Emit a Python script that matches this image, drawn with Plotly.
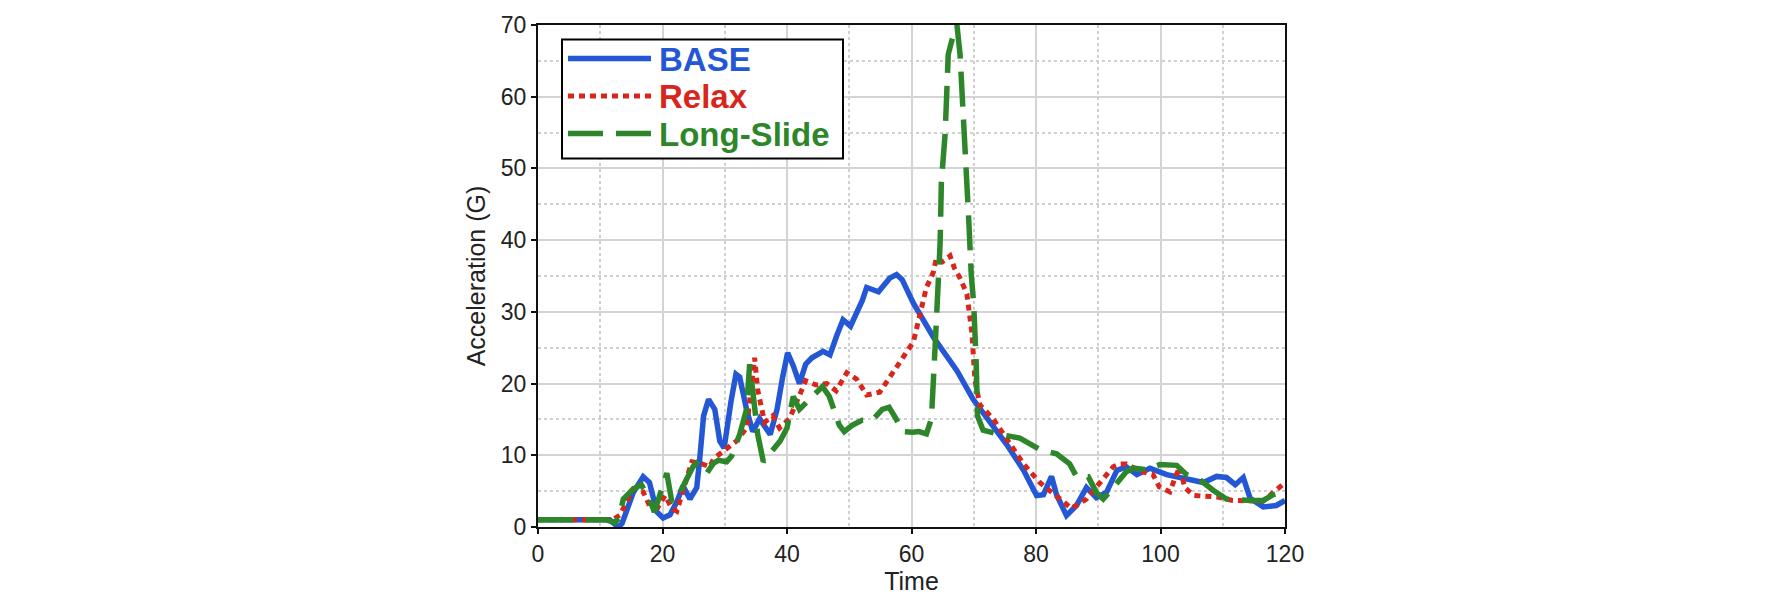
import plotly.graph_objects as go

# ---------------- data ----------------
base_t = [0, 5, 10, 11.5, 12.9, 13.5, 15.3, 16.9, 17.9, 19.1, 20.1, 21.2, 22.3, 23.3, 24.4,
          25.5, 26.0, 26.6, 27.4, 28.4, 29.2, 29.9, 31.0, 31.8, 32.4, 33.5, 34.5, 35.6, 37.3,
          38.4, 39.3, 40.1, 41.0, 42.0, 43.0, 44.0, 45.8, 46.9, 48.0, 49.0, 50.2, 51.0, 52.1,
          52.8, 54.0, 54.7, 56.5, 57.6, 58.5, 60.3, 63.5, 66.2, 67.3, 69.9, 72.6, 75.3, 78.0,
          80.1, 81.2, 82.5, 83.3, 84.9, 86.5, 88.1, 89.7, 91.3, 93.0, 94.5, 96.2, 98.3, 101.0,
          104.2, 106.9, 109.0, 110.6, 112.0, 113.3, 114.4, 116.5, 118.6, 120]
base_a = [1.0, 1.0, 1.0, 1.0, 0.0, 0.5, 4.8, 7.0, 6.2, 2.1, 1.25, 1.7, 3.5, 5.7, 3.9,
          5.5, 9.7, 15.5, 17.8, 16.4, 12.0, 11.0, 17.5, 21.3, 20.9, 16.4, 13.3, 15.1, 12.9,
          16.4, 20.9, 24.3, 22.5, 20.0, 22.7, 23.6, 24.5, 24.0, 26.7, 28.9, 28.0, 29.4, 31.6,
          33.4, 33.0, 32.8, 34.7, 35.2, 34.5, 31.2, 26.5, 23.1, 21.8, 17.8, 14.6, 11.5, 7.9,
          4.4, 4.5, 7.05, 4.5, 1.6, 3.0, 5.5, 4.1, 4.8, 7.9, 8.4, 7.3, 8.2, 7.3,
          6.6, 6.2, 7.05, 6.9, 5.9, 6.9, 4.0, 2.8, 3.0, 3.7]

relax_t = [0, 5, 10, 12, 13.2, 15.3, 16.3, 16.9, 17.9, 19.3, 20.4, 21.5, 22.3, 23.9, 24.7,
           26.0, 27.6, 28.2, 30.3, 31.9, 33.5, 34.1, 34.8, 35.3, 36.4, 37.7, 38.8, 40.4, 42.0,
           43.0, 44.7, 46.4, 47.9, 49.6, 51.2, 52.8, 54.9, 56.5, 58.7, 60.3, 61.4, 62.4, 63.5,
           64.0, 65.0, 66.2, 66.9, 67.8, 68.9, 69.4, 69.7, 70.2, 71.0, 73.1, 75.3, 78.0, 80.6,
           83.3, 85.7, 88.1, 90.3, 92.4, 93.5, 94.5, 96.7, 98.8, 99.8, 101.5, 102.4, 103.1,
           103.9, 105.3, 109.0, 111.6, 116.5, 118.1, 119.7, 120]
relax_a = [1.0, 1.0, 1.0, 1.0, 1.7, 5.3, 5.0, 4.9, 3.0, 2.8, 4.4, 2.6, 2.2, 7.0, 9.1,
           8.9, 8.4, 9.5, 10.8, 12.0, 13.8, 18.2, 23.6, 19.1, 14.6, 15.5, 13.8, 15.1, 18.2,
           20.4, 19.8, 20.0, 19.0, 21.5, 20.6, 18.4, 18.8, 20.9, 23.6, 25.8, 29.8, 33.4, 35.5,
           37.5, 37.0, 37.8, 36.1, 34.7, 32.5, 28.0, 27.1, 20.4, 17.0, 15.1, 12.4, 8.8, 6.2,
           4.4, 2.6, 3.9, 6.2, 8.4, 8.8, 8.8, 7.8, 7.3, 5.6, 4.9, 7.0, 8.4,
           5.5, 4.4, 4.2, 3.7, 3.6, 4.8, 6.2, 6.2]

slide_t = [0, 5, 11, 12.3, 13.0, 13.7, 15.3, 16.6, 17.9, 18.7, 19.9, 20.7, 21.5, 22.8, 23.6,
           24.9, 25.5, 27.1, 28.2, 29.0, 30.3, 31.1, 32.4, 33.5, 34.0, 34.5, 35.3, 36.2, 38.9,
           40.0, 41.0, 42.0, 43.0, 44.1, 45.7, 46.8, 48.4, 49.2, 50.5, 52.1, 53.7, 55.3, 56.4,
           57.5, 58.6, 60.2, 61.2, 62.4, 63.2, 63.8, 64.3, 64.6, 64.8, 65.4, 65.7, 65.9, 66.5,
           67.3, 67.8, 68.3, 68.9, 69.2, 69.6, 70.0, 70.4, 70.6, 71.5, 74.2, 77.4, 80.6, 83.3,
           85.4, 86.5, 88.4, 89.7, 90.8, 92.4, 94.5, 95.6, 97.8, 99.9, 102.6, 104.2, 106.3,
           108.5, 110.6, 114.6, 116.5, 118.1, 119.7, 120]
slide_a = [1.0, 1.0, 1.0, 0.6, 1.2, 3.9, 5.3, 5.9, 3.9, 2.1, 5.3, 7.5, 3.5, 4.8, 6.2,
           8.4, 8.9, 7.5, 8.9, 9.3, 9.1, 9.9, 12.9, 16.4, 22.7, 19.1, 12.9, 9.1, 12.0,
           13.8, 18.2, 16.4, 17.3, 18.2, 19.6, 18.2, 14.2, 13.3, 14.2, 14.9, 14.9, 16.4, 16.7,
           15.1, 13.3, 13.2, 13.3, 13.0, 15.1, 25.3, 32.7, 39.6, 48.1, 54.8, 61.3, 65.9, 67.9,
           70.0, 65.9, 58.4, 49.4, 42.8, 35.2, 31.0, 22.7, 15.5, 13.5, 12.9, 12.4, 10.8, 10.2,
           8.8, 7.05, 7.0, 4.8, 3.9, 5.5, 7.7, 8.2, 8.0, 8.7, 8.6, 7.3, 6.6,
           5.1, 3.9, 3.7, 3.7, 4.5, 5.0, 5.0]

series_names = ["BASE", "Relax", "Long-Slide"]
x_ticks = [0, 20, 40, 60, 80, 100, 120]
y_ticks = [0, 10, 20, 30, 40, 50, 60, 70]

# ---------------- styling ----------------
BLUE = "#2457D4"
RED = "#D9261C"
GREEN = "#2D872A"
FONT = "Liberation Sans, Arial, sans-serif"

styles = [
    dict(color=BLUE, width=5.5, dash="solid"),
    dict(color=RED, width=5, dash="6px,5px"),
    dict(color=GREEN, width=5.5, dash="35px,13px"),
]

fig = go.Figure()
for name, t, a, st in zip(series_names, [base_t, relax_t, slide_t],
                          [base_a, relax_a, slide_a], styles):
    fig.add_trace(go.Scatter(x=t, y=a, mode="lines", name=name, line=st,
                             showlegend=False))

L, R, T, B = 538, 487, 13, 64
W, H = 1772, 600
pw, ph = W - L - R, H - T - B


def px(x):
    return (x - L) / pw


def py(y):
    return (H - B - y) / ph


# custom legend (box, line samples, bold coloured labels)
shapes = [dict(type="rect", xref="paper", yref="paper",
               x0=px(562), x1=px(843), y0=py(152), y1=py(28),
               line=dict(color="black", width=2), fillcolor="white", layer="above")]
annotations = []
rows = [48, 87, 126]
for name, st, ry in zip(series_names, styles, rows):
    shapes.append(dict(type="line", xref="paper", yref="paper",
                       x0=px(568), x1=px(651), y0=py(ry), y1=py(ry),
                       line=dict(color=st["color"], width=st["width"], dash=st["dash"]),
                       layer="above"))
    annotations.append(dict(xref="paper", yref="paper", x=px(657), y=py(ry + 1),
                            xanchor="left", yanchor="middle", showarrow=False,
                            text="<b>%s</b>" % name,
                            font=dict(family=FONT, size=33, color=st["color"])))

fig.update_layout(
    width=W, height=H,
    margin=dict(l=L, r=R, t=T, b=B, pad=0),
    paper_bgcolor="white", plot_bgcolor="white",
    font=dict(family=FONT, color="#222222"),
    shapes=shapes, annotations=annotations,
    showlegend=False,
)
fig.update_xaxes(
    range=[0, 120], tickvals=x_ticks, ticktext=[str(v) for v in x_ticks],
    showgrid=True, gridcolor="#D4D4D4", gridwidth=1.5,
    minor=dict(dtick=10, tick0=0, showgrid=True, gridcolor="#CFCFCF", griddash="dot", gridwidth=1.5),
    showline=True, linecolor="#111111", linewidth=2, mirror=True,
    ticks="outside", ticklen=5, tickcolor="#111111", tickwidth=1.5,
    tickfont=dict(family=FONT, size=23, color="#222222"),
    title=dict(text="Time", font=dict(family=FONT, size=25, color="#222222"), standoff=4),
    zeroline=False,
)
fig.update_yaxes(
    range=[0, 70], tickvals=y_ticks, ticktext=[str(v) for v in y_ticks],
    showgrid=True, gridcolor="#D4D4D4", gridwidth=1.5,
    minor=dict(dtick=5, tick0=0, showgrid=True, gridcolor="#CFCFCF", griddash="dot", gridwidth=1.5),
    showline=True, linecolor="#111111", linewidth=2, mirror=True,
    ticks="outside", ticklen=5, tickcolor="#111111", tickwidth=1.5,
    tickfont=dict(family=FONT, size=23, color="#222222"),
    title=dict(text="Acceleration (G)", font=dict(family=FONT, size=25, color="#222222"), standoff=8),
    zeroline=False,
)

fig.write_html("out.html", config={"displayModeBar": False})
